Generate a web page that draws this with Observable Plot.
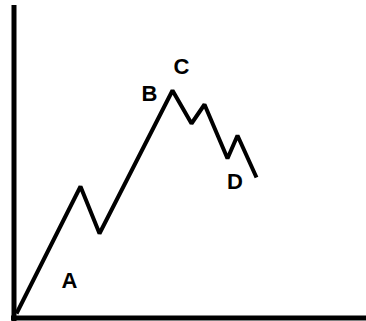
<!DOCTYPE html>
<html><head><meta charset="utf-8">
<script src="https://cdn.jsdelivr.net/npm/d3@7"></script>
<script src="https://cdn.jsdelivr.net/npm/@observablehq/plot@0.6"></script>
<style>body{margin:0;background:#fff}</style>
</head><body><div id="chart"></div>
<script>
const xs = [16, 80, 99, 172, 191, 204, 227, 237, 256];
const ys = [8, 135, 88, 231, 198, 217, 163, 186, 144];
const labels = ["A", "B", "C", "D"];
const labelX = [69, 149, 181, 234.5];
const labelY = [40.7, 227.7, 254.4, 139.2];

const line = xs.map((x, i) => ({x, y: ys[i]}));
const lab = labels.map((t, i) => ({t, x: labelX[i], y: labelY[i]}));

const chart = Plot.plot({
  width: 366, height: 321,
  margin: 0,
  x: {domain: [0, 366], axis: null},
  y: {domain: [0, 321], axis: null},
  marks: [
    Plot.line(line, {x: "x", y: "y", stroke: "#000", strokeWidth: 4, strokeLinejoin: "miter", strokeLinecap: "butt"}),
    Plot.ruleX([13.5], {y1: 0, y2: 316, stroke: "#000", strokeWidth: 5}),
    Plot.ruleY([3.5], {x1: 11, x2: 366, stroke: "#000", strokeWidth: 5}),
    Plot.text(lab, {x: "x", y: "y", text: "t", fontSize: 22, fontWeight: "bold", fontFamily: "Liberation Sans, Arial, sans-serif", fill: "#000"})
  ],
  style: {background: "#fff"}
});
document.getElementById("chart").append(chart);
</script>
</body></html>
